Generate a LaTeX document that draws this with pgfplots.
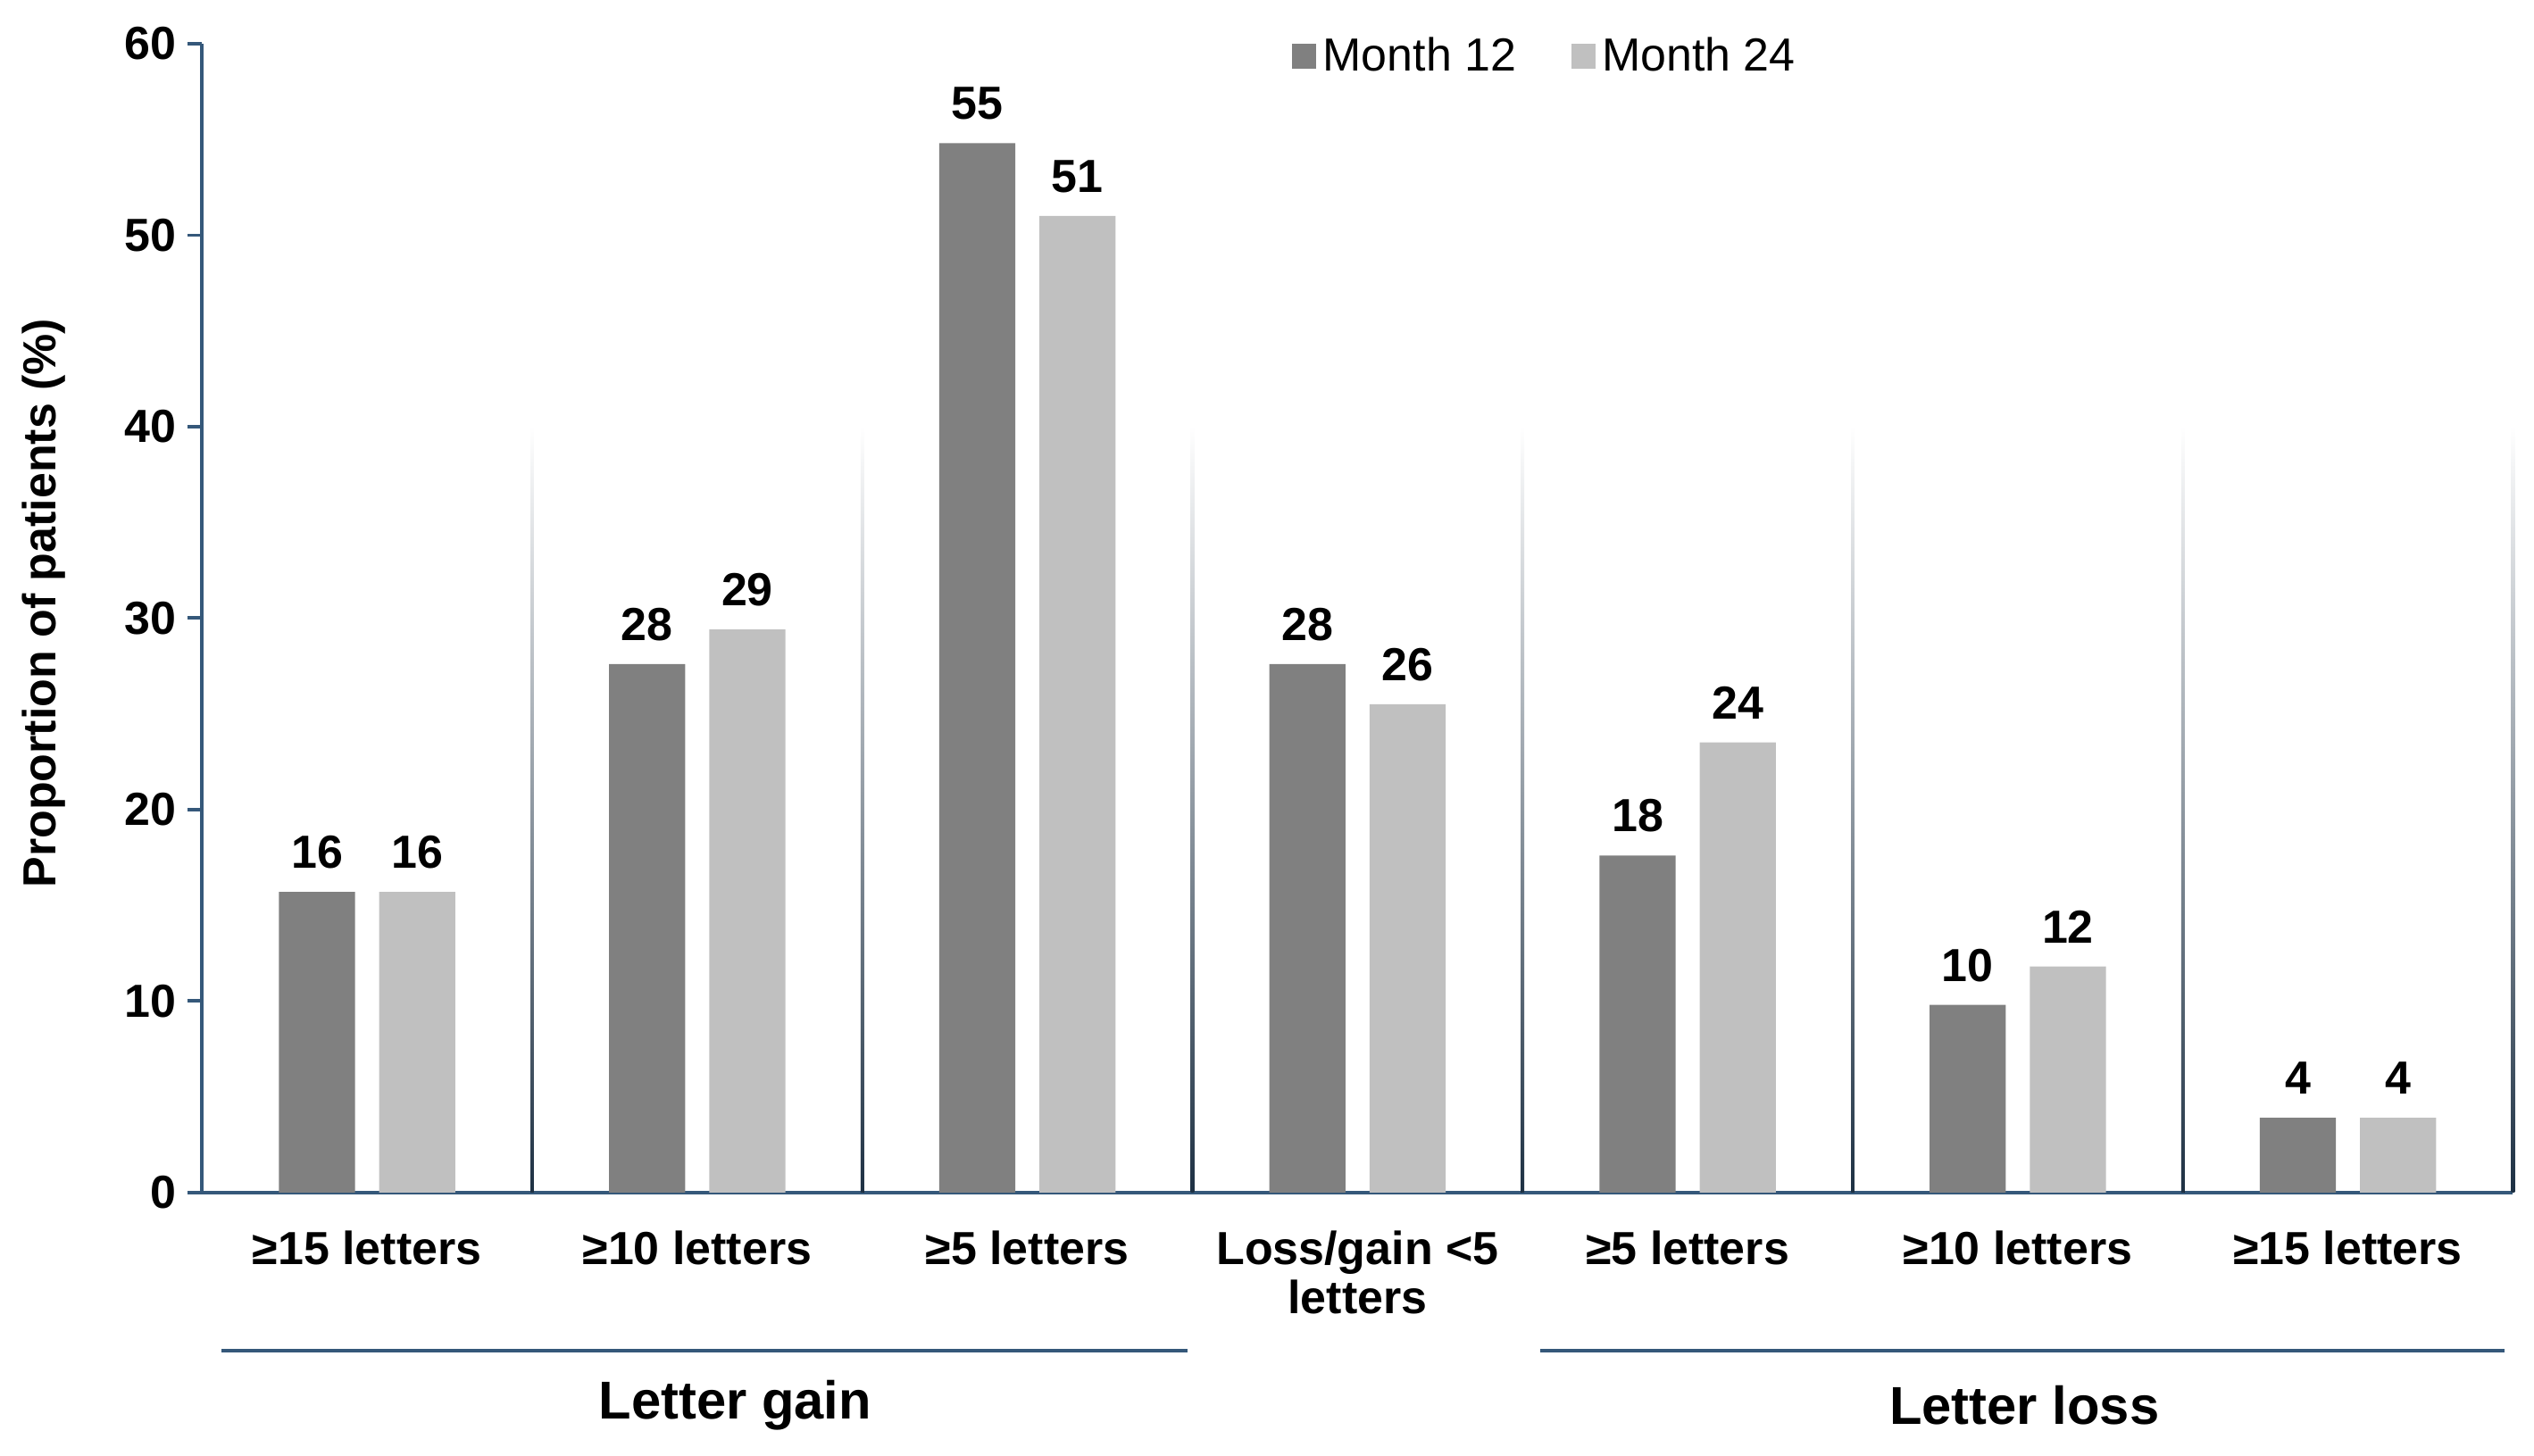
\documentclass[border=0pt]{standalone}
\usepackage{fontspec}
\setmainfont{Liberation Sans}
\usepackage{pgfplots}
\pgfplotsset{compat=1.18}
\usepackage{pgfplotstable}
\definecolor{axcol}{HTML}{35587A}
\definecolor{darkbar}{HTML}{808080}
\definecolor{lightbar}{HTML}{C0C0C0}

\pgfplotstableread{
x m12 m24 l12 l24
0 15.7 15.7 16 16
1 27.6 29.4 28 29
2 54.8 51.0 55 51
3 27.6 25.5 28 26
4 17.6 23.5 18 24
5 9.8 11.8 10 12
6 3.9 3.9 4 4
}\data

\begin{document}
\begin{tikzpicture}
\useasboundingbox (0,0) rectangle (784pt,450.5pt);
\begin{axis}[
  at={(62.5pt,81.5pt)}, anchor=south west,
  scale only axis, width=715pt, height=355.5pt,
  xmin=-0.5, xmax=6.5, ymin=0, ymax=60,
  clip=false,
  ybar, bar width=23.5pt,
  axis x line*=bottom, axis y line*=left,
  axis line style={axcol, line width=1pt, -},
  ytick={0,10,...,60},
  tick align=outside,
  major tick length=4.5pt,
  y tick style={axcol, line width=1pt},
  x tick style={draw=none},
  /pgf/number format/assume math mode=true,
  y tick label style={font=\fontsize{14.35}{15}\selectfont\bfseries},
  xtick={0,...,6},
  xticklabels={{≥15 letters},{≥10 letters},{≥5 letters},{Loss/gain <5\\letters},{≥5 letters},{≥10 letters},{≥15 letters}},
  x tick label style={font=\fontsize{14.35}{15}\selectfont\bfseries, align=center, anchor=north, yshift=-4pt},
  ylabel={Proportion of patients (\%)},
  every axis y label/.style={at={(axis description cs:-0.0685,0.513)}, rotate=90, anchor=center, font=\fontsize{14.35}{15}\selectfont\bfseries},
  legend style={at={(axis description cs:0.582,0.989)}, anchor=center, draw=none, fill=none,
    legend columns=2, font=\fontsize{14.35}{15}\selectfont,
    /tikz/every even column/.append style={column sep=15pt}},
  legend image code/.code={\fill[#1] (-1.5pt,-3.75pt) rectangle (6pt,3.75pt);},
  nodes near coords,
  point meta=explicit symbolic,
  every node near coord/.append style={font=\fontsize{14.35}{15}\selectfont\bfseries, anchor=base, yshift=7.3pt, text=black},
]
\pgfplotsinvokeforeach{0.5,1.5,2.5,3.5,4.5,5.5,6.5}{
  \fill[top color=white, bottom color=axcol!55!black] ([xshift=-0.55pt]axis cs:#1,0) rectangle ([xshift=0.55pt]axis cs:#1,40);
}
\addplot[fill=darkbar, draw=none, bar shift=-15.5pt] table[x=x, y=m12, meta=l12] {\data};
\addlegendentry{Month 12}
\addplot[fill=lightbar, draw=none, bar shift=15.5pt] table[x=x, y=m24, meta=l24] {\data};
\addlegendentry{Month 24}
\draw[axcol, line width=1pt] (axis cs:-0.441,-8.27) -- (axis cs:2.486,-8.27);
\draw[axcol, line width=1pt] (axis cs:3.553,-8.27) -- (axis cs:6.475,-8.27);
\node[font=\fontsize{16.5}{18}\selectfont\bfseries] at (axis cs:1.115,-11.1) {Letter gain};
\node[font=\fontsize{16.5}{18}\selectfont\bfseries] at (axis cs:5.02,-11.1) {Letter loss};
\end{axis}
\end{tikzpicture}
\end{document}
